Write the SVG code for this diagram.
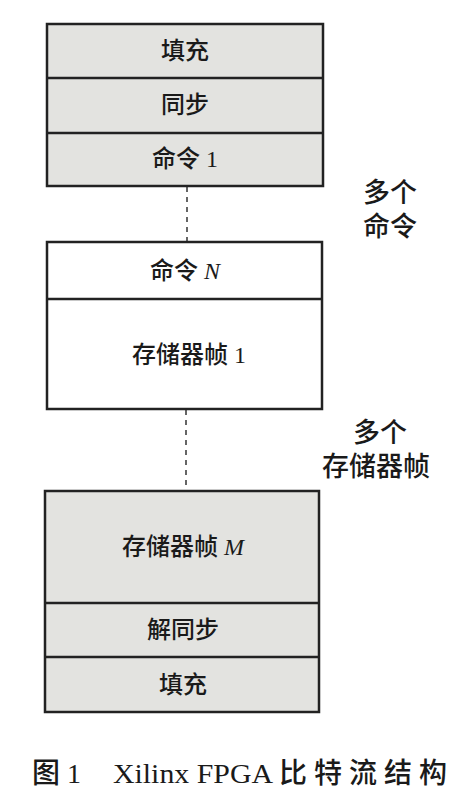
<svg xmlns="http://www.w3.org/2000/svg" width="456" height="798" viewBox="0 0 456 798">
<style>
.box{stroke:#222;stroke-width:2.5}
.g{fill:#e3e3e0}
.w{fill:#ffffff}
.t{font-family:"Liberation Serif","Noto Sans CJK SC",serif;font-size:24px;font-weight:500;fill:#1a1a1a;text-anchor:middle;dominant-baseline:central}
.lb{font-family:"Liberation Serif","Noto Sans CJK SC",serif;font-size:27px;font-weight:500;fill:#1a1a1a;text-anchor:middle;dominant-baseline:central}
.cap{font-family:"Liberation Serif","Noto Sans CJK SC",serif;font-size:28px;font-weight:500;fill:#1a1a1a;dominant-baseline:central}
.dash{stroke:#333;stroke-width:1.5;stroke-dasharray:5,5;fill:none}
</style>
<rect width="456" height="798" fill="#ffffff"/>
<g id="connectors">
<line class="dash" x1="187" y1="187" x2="187" y2="242"/>
<line class="dash" x1="186" y1="410" x2="186" y2="491"/>
</g>
<g id="top">
<rect class="box g" x="47" y="24" width="276" height="162"/>
<line class="box" x1="47" y1="78" x2="323" y2="78"/>
<line class="box" x1="47" y1="133" x2="323" y2="133"/>
<text class="t" x="185" y="51">填充</text>
<text class="t" x="185" y="105">同步</text>
<text class="t" x="185" y="159">命令 1</text>
</g>
<g id="middle">
<rect class="box w" x="47" y="242" width="275" height="167"/>
<line class="box" x1="47" y1="299" x2="322" y2="299"/>
<text class="t" x="185" y="271">命令 <tspan font-style="italic" font-weight="normal">N</tspan></text>
<text class="t" x="189" y="355">存储器帧 1</text>
</g>
<g id="bottom">
<rect class="box g" x="45" y="491" width="274" height="221"/>
<line class="box" x1="45" y1="603" x2="319" y2="603"/>
<line class="box" x1="45" y1="657" x2="319" y2="657"/>
<text class="t" x="183" y="547">存储器帧 <tspan font-style="italic" font-weight="normal">M</tspan></text>
<text class="t" x="183" y="630">解同步</text>
<text class="t" x="183" y="685">填充</text>
</g>
<g id="label-cmds">
<text class="lb" x="390" y="193">多个</text>
<text class="lb" x="390" y="227">命令</text>
</g>
<g id="label-frames">
<text class="lb" x="380" y="433">多个</text>
<text class="lb" x="376" y="467" font-size="29">存储器帧</text>
</g>
<g id="caption">
<text class="cap" x="32" y="773">图 1</text>
<text class="cap" x="113" y="773" font-weight="bold" textLength="160" lengthAdjust="spacingAndGlyphs">Xilinx FPGA</text>
<text class="cap" x="279" y="773" font-size="31" textLength="168" lengthAdjust="spacing">比特流结构</text>
</g>
</svg>
